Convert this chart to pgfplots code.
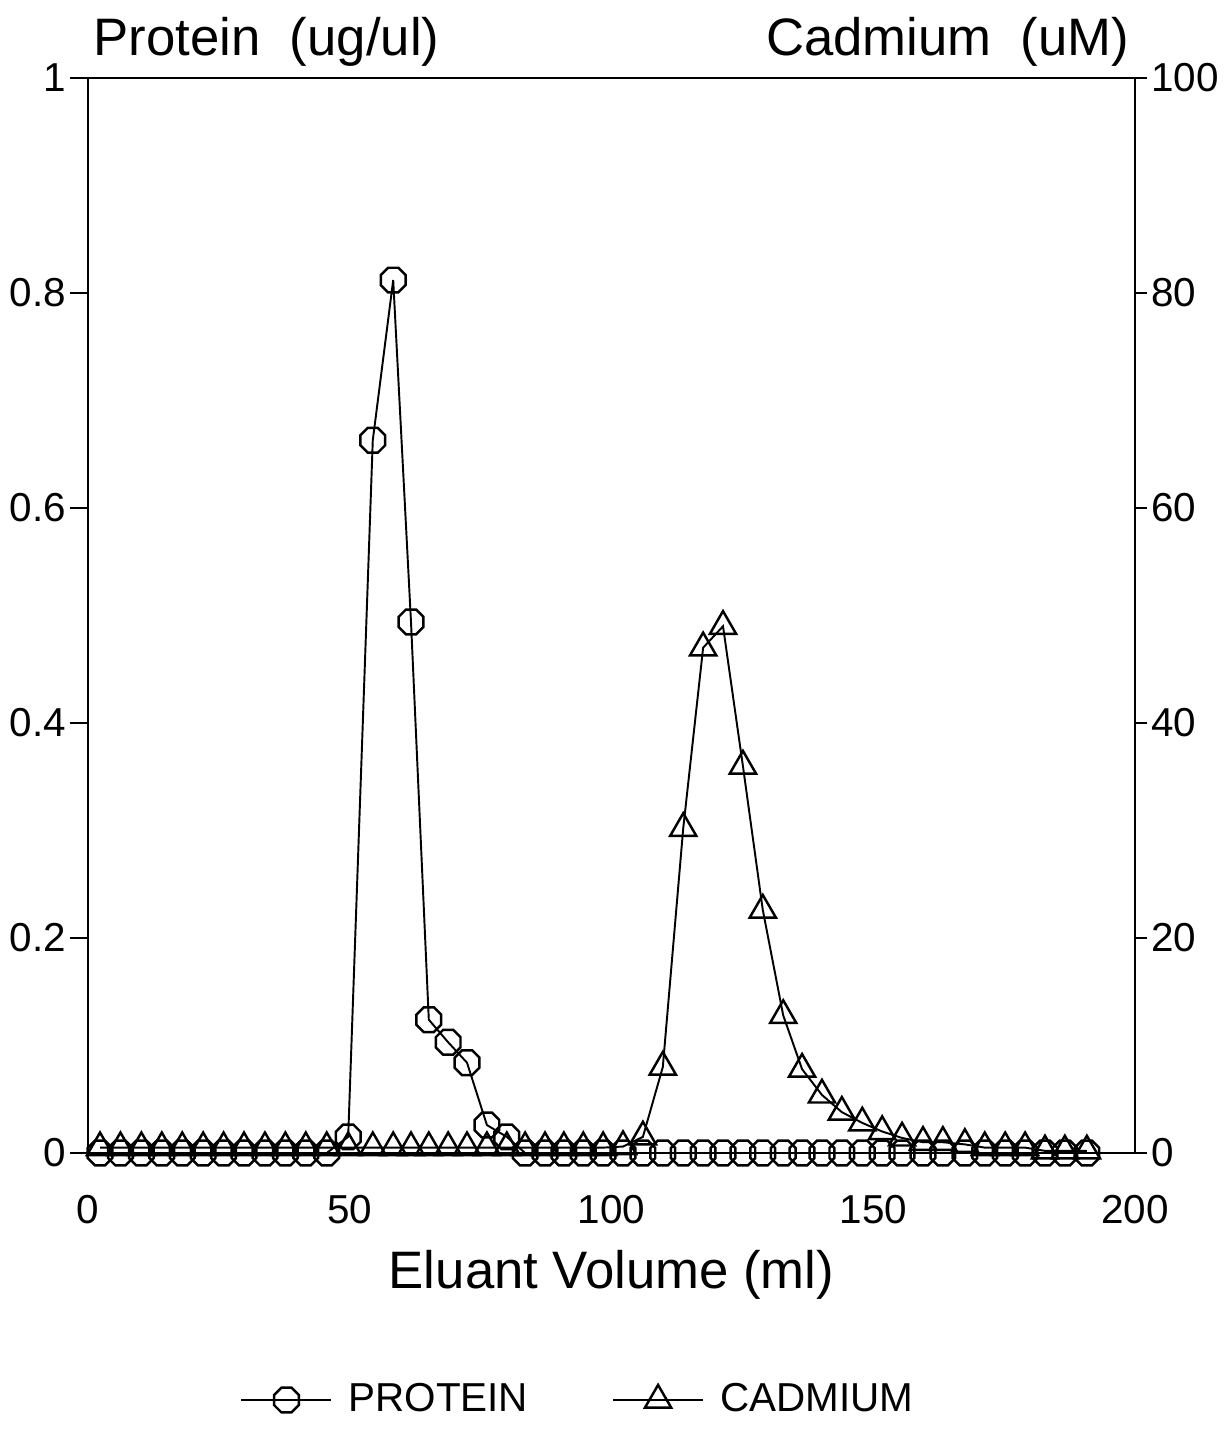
\documentclass[border=0pt]{standalone}
\usepackage{fontspec}
\setmainfont{Liberation Sans}
\usepackage{pgfplots}
\pgfplotsset{compat=1.18}
\usepackage{pgfplotstable}

\pgfdeclareplotmark{octagon}{%
  \pgfpathmoveto{\pgfqpointpolar{22.5}{\pgfplotmarksize}}%
  \pgfpathlineto{\pgfqpointpolar{67.5}{\pgfplotmarksize}}%
  \pgfpathlineto{\pgfqpointpolar{112.5}{\pgfplotmarksize}}%
  \pgfpathlineto{\pgfqpointpolar{157.5}{\pgfplotmarksize}}%
  \pgfpathlineto{\pgfqpointpolar{202.5}{\pgfplotmarksize}}%
  \pgfpathlineto{\pgfqpointpolar{247.5}{\pgfplotmarksize}}%
  \pgfpathlineto{\pgfqpointpolar{292.5}{\pgfplotmarksize}}%
  \pgfpathlineto{\pgfqpointpolar{337.5}{\pgfplotmarksize}}%
  \pgfpathclose
  \pgfusepathqstroke
}

\pgfplotstableread{
x p c
2.3 0 0.5
6.2 0 0.5
10.2 0 0.5
14.1 0 0.5
18.0 0 0.5
22.0 0 0.5
25.9 0 0.5
29.8 0 0.5
33.8 0 0.5
37.7 0 0.5
41.6 0 0.5
45.6 0 0.5
49.7 0.015 0.5
54.4 0.663 0.5
58.3 0.812 0.5
61.7 0.494 0.5
65.1 0.124 0.5
68.8 0.103 0.5
72.4 0.084 0.5
76.2 0.026 0.5
80.0 0.015 0.5
83.5 0 0.5
87.3 0 0.5
90.9 0 0.5
94.6 0 0.5
98.4 0 0.5
102.2 0 0.6
106.0 0 1.5
109.8 0 8.0
113.7 0 30.2
117.5 0 47.0
121.3 0 49.0
125.1 0 36.0
128.9 0 22.6
132.8 0 12.8
136.4 0 7.8
140.2 0 5.4
144.0 0 3.8
147.9 0 2.8
151.7 0 2.0
155.5 0 1.4
159.5 0 1.0
163.3 0 1.0
167.5 0 0.8
171.3 0 0.5
175.2 0 0.5
179.0 0 0.5
182.8 0 0.2
186.6 0 0.2
190.8 0 0.2
}\data

\pgfplotsset{
  protstyle/.style={black, line width=0.55pt, mark=octagon, mark size=3.8pt, mark options={line width=0.7pt}},
  cadstyle/.style={black, line width=0.55pt, mark=triangle, mark size=4.3pt, mark options={line width=0.7pt}},
}

\begin{document}
\begin{tikzpicture}
\begin{axis}[
  name=ax,
  width=10.47cm, height=10.75cm, scale only axis,
  xmin=0, xmax=200, ymin=0, ymax=1,
  clip=false,
  axis line style={line width=0.7pt},
  xtick={0,50,100,150,200},
  xticklabels={0,50,100,150,200},
  ytick={0,0.2,0.4,0.6,0.8,1},
  yticklabels={0,0.2,0.4,0.6,0.8,1},
  xtick style={draw=none},
  ytick style={line width=0.7pt, black},
  ytick pos=left,
  tick align=outside,
  major tick length=0.18cm,
  ticklabel style={font=\fontsize{11.5}{13}\selectfont},
  yticklabel style={inner sep=1pt},
  xticklabel style={yshift=-0.12cm},
  xlabel={Eluant Volume (ml)},
  xlabel style={font=\fontsize{15}{18}\selectfont, at={(axis description cs:0.5,0)}, anchor=center, yshift=-1.22cm},
]
\addplot[protstyle] table[x=x, y=p] {\data};
\node[anchor=base west, font=\fontsize{15}{18}\selectfont, inner sep=0pt, xshift=0.05cm, yshift=0.22cm] at (rel axis cs:0,1) {Protein\ \ (ug/ul)};
\node[anchor=base east, font=\fontsize{15}{18}\selectfont, inner sep=0pt, xshift=-0.05cm, yshift=0.22cm] at (rel axis cs:1,1) {Cadmium\ \ (uM)};
\end{axis}
\begin{axis}[
  width=10.47cm, height=10.75cm, scale only axis,
  xmin=0, xmax=200, ymin=0, ymax=100,
  clip=false,
  axis x line=none,
  axis y line*=right,
  axis line style={line width=0.7pt},
  ytick={0,20,40,60,80,100},
  yticklabels={0,20,40,60,80,100},
  ytick style={line width=0.7pt, black},
  tick align=outside,
  major tick length=0.12cm,
  ticklabel style={font=\fontsize{11.5}{13}\selectfont},
  yticklabel style={inner sep=1pt},
  legend columns=2,
  legend style={draw=none, fill=none, at={(0.145,-0.2298)}, anchor=west, inner sep=0pt,
    font=\fontsize{11.5}{13}\selectfont,
    /tikz/every even column/.append style={column sep=0.68cm},
    nodes={inner xsep=0.16cm}},
  legend image code/.code={\draw[mark repeat=2, mark phase=2] plot coordinates {(0cm,0cm) (0.45cm,0cm) (0.9cm,0cm)};},
]
\addlegendimage{protstyle}
\addlegendentry{PROTEIN}
\addplot[cadstyle] table[x=x, y=c] {\data};
\addlegendentry{CADMIUM}
\end{axis}
\pgfresetboundingbox
\path[use as bounding box] ([shift={(-0.88cm,-2.77cm)}]ax.south west) rectangle ([shift={(0.96cm,0.78cm)}]ax.north east);
\end{tikzpicture}
\end{document}
